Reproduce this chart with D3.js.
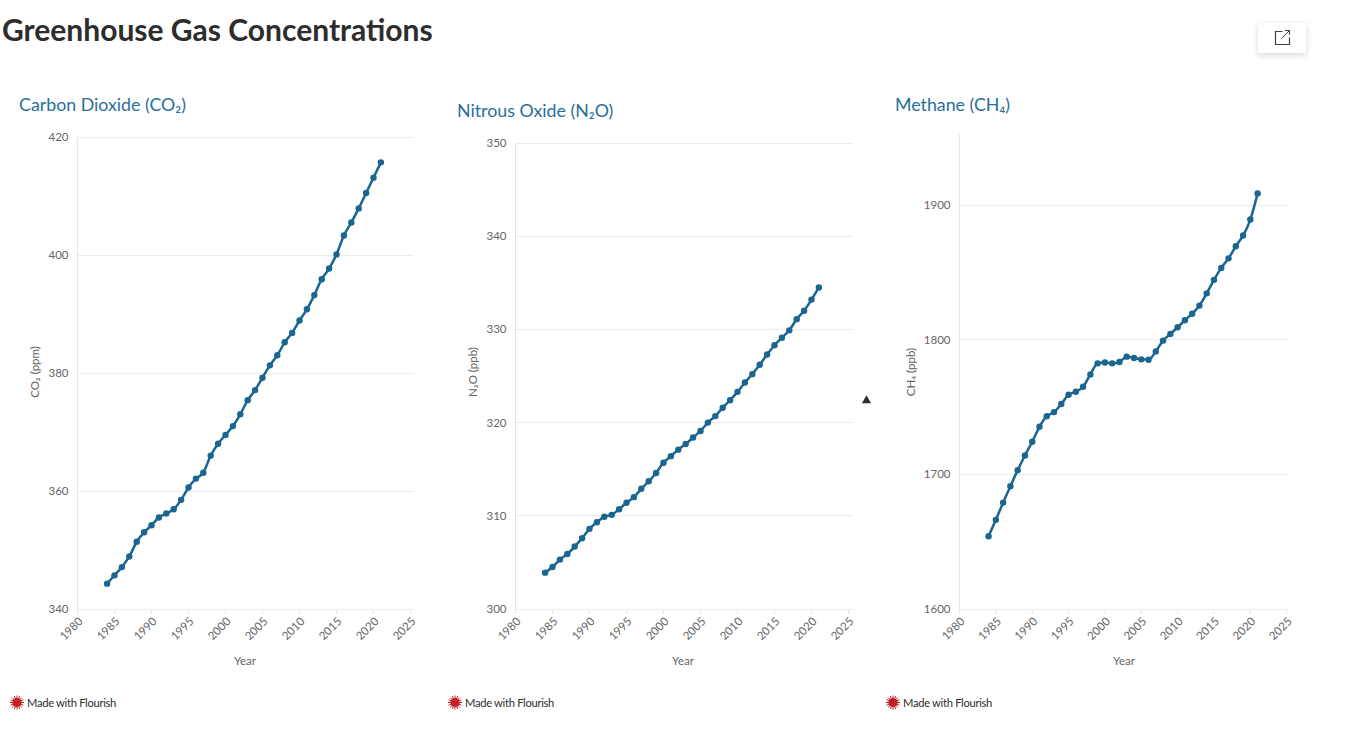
<!DOCTYPE html>
<html>
<head>
<meta charset="utf-8">
<title>Greenhouse Gas Concentrations</title>
<script src="https://cdn.jsdelivr.net/npm/d3@7"></script>
<style>
  html, body { margin: 0; padding: 0; background: #fff; overflow: hidden; }
  svg { display: block; }
  text { font-family: Lato, "Noto Sans", sans-serif; }
  .grid line { stroke: #ececec; stroke-width: 1; }
  .domain-line { stroke: #e6e6e6; stroke-width: 1; }
  .tick-label { fill: #666; font-size: 11.5px; }
</style>
</head>
<body>
<svg id="chart" width="1356" height="732"></svg>
<script>
// Greenhouse gas charts, three panels side by side

var years = d3.range(1984, 2022);
var xTicks = d3.range(1980, 2026, 5);

var co2Values = [344.3, 345.7, 347.1, 348.9, 351.4, 353.0, 354.2, 355.5, 356.2, 356.9,
  358.5, 360.6, 362.1, 363.1, 366.0, 368.0, 369.5, 371.0, 373.0, 375.4,
  377.1, 379.2, 381.3, 383.0, 385.2, 386.8, 388.9, 390.8, 393.2, 395.9,
  397.7, 400.1, 403.3, 405.5, 407.9, 410.5, 413.1, 415.7];
var n2oValues = [303.9, 304.5, 305.3, 305.9, 306.7, 307.6, 308.6, 309.3, 309.9, 310.1,
  310.7, 311.4, 312.0, 312.9, 313.7, 314.6, 315.7, 316.4, 317.1, 317.7,
  318.4, 319.1, 320.0, 320.7, 321.6, 322.4, 323.3, 324.3, 325.2, 326.2,
  327.3, 328.3, 329.1, 329.9, 331.1, 332.0, 333.2, 334.5];
var ch4Values = [1654.0, 1666.2, 1679.0, 1691.2, 1703.1, 1714.0, 1724.2, 1735.3, 1743.2, 1746.2,
  1752.2, 1759.1, 1761.3, 1765.0, 1774.2, 1782.4, 1783.1, 1782.4, 1783.4, 1787.4,
  1786.4, 1785.4, 1785.1, 1791.3, 1799.3, 1804.2, 1809.2, 1814.4, 1819.3, 1825.3,
  1834.4, 1844.4, 1853.3, 1860.4, 1869.4, 1877.3, 1889.2, 1908.6];

var co2Ticks = [340, 360, 380, 400, 420];
var n2oTicks = [300, 310, 320, 330, 340, 350];
var ch4Ticks = [1600, 1700, 1800, 1900];

var blue = "#1a6690";
var svg = d3.select("#chart");

svg.append("text")
  .attr("x", 2).attr("y", 41)
  .attr("font-size", 30).attr("font-weight", 700)
  .attr("fill", "#2d2d2d")
  .text("Greenhouse Gas Concentrations");

function drawPanel(p) {
  var x = d3.scaleLinear().domain([1980, 2025]).range([p.left, p.x2025]);
  var y = d3.scaleLinear().domain(p.domain).range([609, p.top]);
  var g = svg.append("g");

  g.append("text")
    .attr("x", p.titleX).attr("y", p.titleY)
    .attr("font-size", 17.8).attr("fill", "#2a6f99")
    .text(p.title);

  // gridlines
  g.append("g").attr("class", "grid").selectAll("line")
    .data(p.ticks).join("line")
    .attr("x1", p.left).attr("x2", p.right)
    .attr("y1", function (d) { return Math.floor(y(d)) + 0.5; })
    .attr("y2", function (d) { return Math.floor(y(d)) + 0.5; });

  // left axis line
  g.append("line").attr("class", "domain-line")
    .attr("x1", p.left).attr("x2", p.left)
    .attr("y1", p.axisTop).attr("y2", 609.5);

  g.selectAll(".ylab").data(p.ticks).join("text")
    .attr("class", "tick-label ylab")
    .attr("x", p.left - 9)
    .attr("y", function (d) { return y(d) + 4; })
    .attr("text-anchor", "end")
    .text(function (d) { return d; });

  // x ticks and rotated labels
  g.selectAll(".xtick").data(xTicks).join("line")
    .attr("class", "domain-line xtick")
    .attr("x1", function (d) { return x(d); }).attr("x2", function (d) { return x(d); })
    .attr("y1", 609.5).attr("y2", 614);

  g.selectAll(".xlab").data(xTicks).join("text")
    .attr("class", "tick-label xlab")
    .attr("text-anchor", "end")
    .attr("transform", function (d) { return "translate(" + (x(d) + 6) + ",622) rotate(-45)"; })
    .text(function (d) { return d; });

  g.append("text").attr("class", "tick-label")
    .attr("x", p.yearX).attr("y", 665)
    .attr("text-anchor", "middle")
    .text("Year");

  g.append("text").attr("class", "tick-label")
    .attr("text-anchor", "middle")
    .attr("transform", "translate(" + p.yLabelX + ",372) rotate(-90)")
    .text(p.yLabel);

  var line = d3.line()
    .x(function (d, i) { return x(years[i]); })
    .y(function (d) { return y(d); })
    .curve(d3.curveMonotoneX);

  g.append("path").datum(p.values)
    .attr("d", line)
    .attr("fill", "none")
    .attr("stroke", blue)
    .attr("stroke-width", 2.5);

  g.selectAll(".dot").data(p.values).join("circle")
    .attr("class", "dot")
    .attr("cx", function (d, i) { return x(years[i]); })
    .attr("cy", function (d) { return y(d); })
    .attr("r", 3.2)
    .attr("fill", blue);

  // Made with Flourish badge
  var badge = g.append("g").attr("transform", "translate(" + p.badgeX + ",702.5)");
  badge.selectAll("line").data(d3.range(16)).join("line")
    .attr("x1", 0).attr("y1", 0)
    .attr("x2", function (d) { return 7 * Math.cos(d * Math.PI / 8); })
    .attr("y2", function (d) { return 7 * Math.sin(d * Math.PI / 8); })
    .attr("stroke", "#c21f26").attr("stroke-width", 1);
  badge.append("circle").attr("r", 4.6).attr("fill", "#c21f26");
  badge.append("text")
    .attr("x", 10).attr("y", 4)
    .attr("font-size", 11.2).attr("letter-spacing", -0.3).attr("fill", "#2d2d2d")
    .text("Made with Flourish");
}

drawPanel({ title: "Carbon Dioxide (CO₂)", titleX: 19, titleY: 111, values: co2Values, ticks: co2Ticks,
  domain: [340, 420], top: 137, axisTop: 137, left: 77.5, right: 414, x2025: 410.5,
  yLabel: "CO₂ (ppm)", yLabelX: 39, yearX: 245, badgeX: 17 });
drawPanel({ title: "Nitrous Oxide (N₂O)", titleX: 457, titleY: 117, values: n2oValues, ticks: n2oTicks,
  domain: [300, 350], top: 143, axisTop: 143, left: 515.5, right: 852, x2025: 848.5,
  yLabel: "N₂O (ppb)", yLabelX: 477, yearX: 683, badgeX: 455 });
drawPanel({ title: "Methane (CH₄)", titleX: 895, titleY: 111, values: ch4Values, ticks: ch4Ticks,
  domain: [1600, 1900], top: 205, axisTop: 134, left: 959.5, right: 1288, x2025: 1286.7,
  yLabel: "CH₄ (ppb)", yLabelX: 915, yearX: 1124, badgeX: 893 });

// little triangle between the second and third panel
svg.append("path")
  .attr("d", d3.symbol().type(d3.symbolTriangle).size(36))
  .attr("transform", "translate(866.5,400.5)")
  .attr("fill", "#2d2d2d");

// export button, top right
var defs = svg.append("defs");
var shadow = defs.append("filter").attr("id", "btnShadow")
  .attr("x", "-30%").attr("y", "-30%").attr("width", "160%").attr("height", "170%");
shadow.append("feDropShadow")
  .attr("dx", 0).attr("dy", 2).attr("stdDeviation", 3)
  .attr("flood-color", "#000").attr("flood-opacity", 0.16);

var btn = svg.append("g").attr("transform", "translate(1258,23)");
btn.append("rect")
  .attr("width", 48).attr("height", 30).attr("rx", 2)
  .attr("fill", "#fff").attr("filter", "url(#btnShadow)");
btn.append("path")
  .attr("d", "M24.5 8.5H17.5V21.5H31.5V14.5")
  .attr("fill", "none").attr("stroke", "#3c4043").attr("stroke-width", 1.2);
btn.append("path")
  .attr("d", "M23.5 15.5L31 8M27 7.5H31.5V12")
  .attr("fill", "none").attr("stroke", "#3c4043").attr("stroke-width", 1);
</script>
</body>
</html>
